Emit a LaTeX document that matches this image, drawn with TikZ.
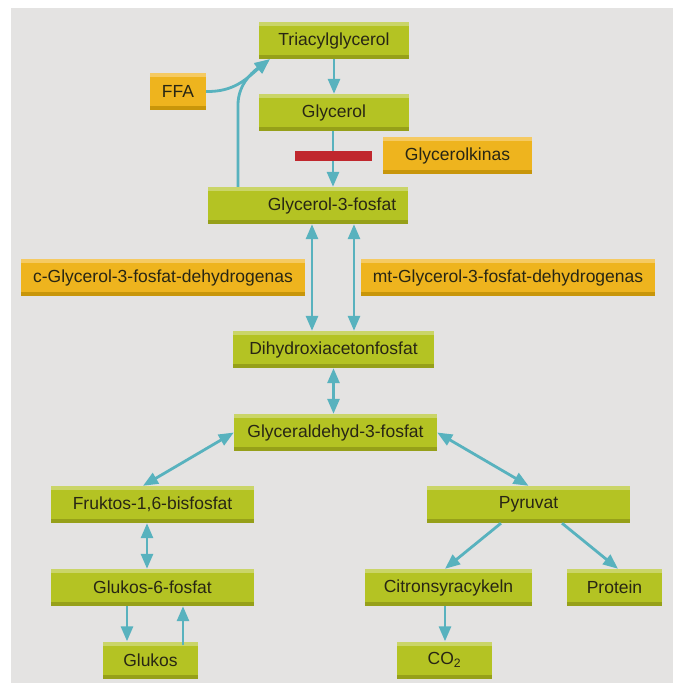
\documentclass[tikz,border=0pt]{standalone}
\usepackage{fontspec}
\setmainfont{Liberation Sans}
\usetikzlibrary{arrows.meta}
\definecolor{bgpanel}{RGB}{228,227,226}
\definecolor{gmain}{RGB}{180,195,35}
\definecolor{glight}{RGB}{202,213,104}
\definecolor{gdark}{RGB}{150,160,25}
\definecolor{omain}{RGB}{238,180,30}
\definecolor{olight}{RGB}{245,202,98}
\definecolor{odark}{RGB}{200,150,10}
\definecolor{teal}{RGB}{88,178,190}
\definecolor{inhibred}{RGB}{192,39,45}
\definecolor{txt}{RGB}{40,38,20}
\tikzset{
  basebox/.style={minimum height=37pt, inner sep=0pt, text=txt,
    font=\fontsize{17.5}{20}\selectfont},
  greenbox/.style={basebox, fill=gmain, minimum width=#1,
    path picture={
      \fill[glight] (path picture bounding box.north west) rectangle ([yshift=-4pt]path picture bounding box.north east);
      \fill[gdark] ([yshift=4pt]path picture bounding box.south west) rectangle (path picture bounding box.south east);}},
  orangebox/.style={basebox, fill=omain, minimum width=#1,
    path picture={
      \fill[olight] (path picture bounding box.north west) rectangle ([yshift=-4pt]path picture bounding box.north east);
      \fill[odark] ([yshift=4pt]path picture bounding box.south west) rectangle (path picture bounding box.south east);}},
  inhib/.style={fill=inhibred, minimum width=77pt, minimum height=10pt, inner sep=0pt},
  conn/.style={draw=teal, line width=2.8pt},
  arr/.style={conn, -{Triangle[length=15pt,width=12pt]}},
  darr/.style={conn, {Triangle[length=15pt,width=12pt]}-{Triangle[length=15pt,width=12pt]}},
}
\begin{document}
\begin{tikzpicture}[x=1pt,y=-1pt]
\useasboundingbox (0,0) rectangle (673,683);
\fill[white] (0,0) rectangle (673,683);
\fill[bgpanel] (11,8) rectangle (673,683);

\node[greenbox=150pt] (tri) at (334,40.5) {Triacylglycerol};
\node[orangebox=56pt] (ffa) at (178,91.5) {FFA};
\node[greenbox=150pt] (gly) at (334,112.5) {Glycerol};
\node[orangebox=149pt] (kin) at (457.5,155.5) {Glycerolkinas};
\node[greenbox=200pt] (g3p) at (308,205.5) {\hspace*{48pt}Glycerol-3-fosfat};
\node[orangebox=284pt] (cg) at (163,277.5) {c-Glycerol-3-fosfat-dehydrogenas};
\node[orangebox=294pt] (mt) at (508,277.5) {mt-Glycerol-3-fosfat-dehydrogenas};
\node[greenbox=201pt] (dhap) at (333.5,349.5) {Dihydroxiacetonfosfat};
\node[greenbox=203pt] (ga3p) at (335.5,432.5) {Glyceraldehyd-3-fosfat};
\node[greenbox=203pt] (fru) at (152.5,504.5) {Fruktos-1,6-bisfosfat};
\node[greenbox=203pt] (pyr) at (528.5,504.5) {Pyruvat};
\node[greenbox=203pt] (g6p) at (152.5,587.5) {Glukos-6-fosfat};
\node[greenbox=167pt] (cit) at (448.5,587.5) {Citronsyracykeln};
\node[greenbox=95pt] (pro) at (614.5,587.5) {Protein};
\node[greenbox=95pt] (glu) at (150.5,660) {Glukos};
\node[greenbox=95pt] (co2) at (444.5,660) {CO\textsubscript{2}};

\coordinate (tip) at ([xshift=11pt]tri.south west);
\draw[arr] (tri.south) -- (gly.north);
\draw[arr] (ffa.east) .. controls (235,92) and (247,78) .. (tip);
\draw[arr] ([xshift=-70pt]g3p.north) -- (238,105) .. controls (238,86) and (250,74) .. (tip);
\draw[arr] ([xshift=-1pt]gly.south) -- ([xshift=-1pt]gly.south |- g3p.north);
\node[inhib] (bar) at (333.5,156) {};

\draw[darr] ([xshift=4pt]g3p.south) -- ([xshift=4pt]g3p.south |- dhap.north);
\draw[darr] ([xshift=46pt]g3p.south) -- ([xshift=46pt]g3p.south |- dhap.north);
\draw[darr] (dhap.south) -- (dhap.south |- ga3p.north);
\draw[darr] (ga3p.west) -- ([xshift=-9.5pt]fru.north);
\draw[darr] (ga3p.east) -- (pyr.north);
\draw[darr] ([xshift=-5.5pt]fru.south) -- ([xshift=-5.5pt]fru.south |- g6p.north);
\draw[arr] ([xshift=-25.5pt]g6p.south) -- ([xshift=-25.5pt]g6p.south |- glu.north);
\draw[arr] ([xshift=32.5pt,yshift=-4pt]glu.north) -- ([xshift=32.5pt]glu.north |- g6p.south);
\draw[arr] ([xshift=-27.5pt]pyr.south) -- ([xshift=-3.5pt]cit.north);
\draw[arr] ([xshift=33.5pt]pyr.south) -- ([xshift=3.5pt]pro.north);
\draw[arr] ([xshift=-3.5pt]cit.south) -- ([xshift=-3.5pt]cit.south |- co2.north);
\end{tikzpicture}
\end{document}
